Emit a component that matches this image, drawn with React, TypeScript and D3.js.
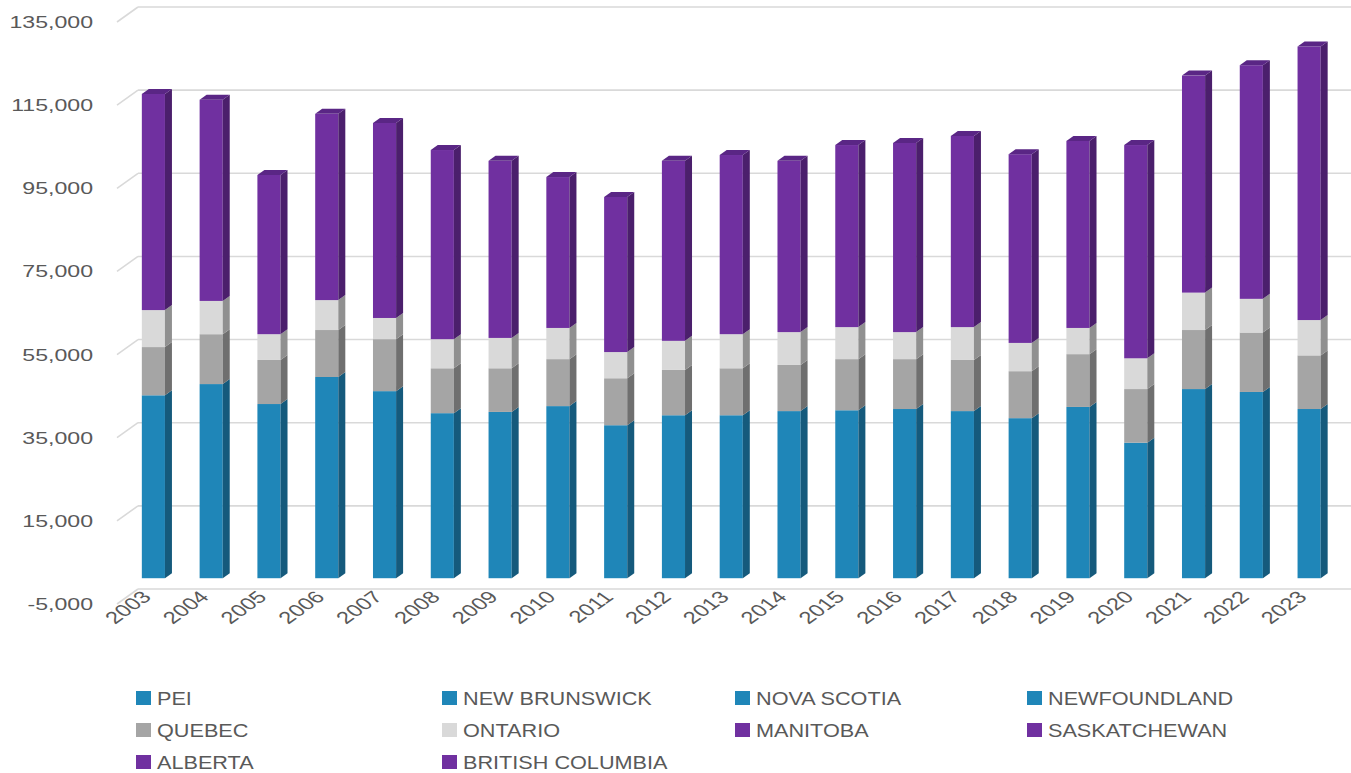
import * as d3 from "d3";
import { useEffect, useRef } from "react";

// Years on the x axis
const years = [
  "2003", "2004", "2005", "2006", "2007", "2008", "2009", "2010", "2011", "2012", "2013",
  "2014", "2015", "2016", "2017", "2018", "2019", "2020", "2021", "2022", "2023",
];

// Series values, one entry per year
const pei = [4200, 4500, 4000, 4700, 4300, 3800, 3900, 4000, 3500, 3800, 3700, 3900, 3900, 4000, 3900, 3700, 4000, 3100, 4400, 4300, 3900];
const newBrunswick = [13100, 13900, 12500, 14400, 13400, 11800, 11900, 12300, 11000, 11700, 11700, 12000, 12000, 12100, 12000, 11500, 12300, 9700, 13600, 13400, 12100];
const novaScotia = [15400, 16300, 14700, 16900, 15700, 13900, 14000, 14500, 12900, 13700, 13700, 14100, 14100, 14200, 14100, 13500, 14400, 11400, 15900, 15700, 14300];
const newfoundland = [11300, 12000, 10700, 12400, 11600, 10200, 10200, 10600, 9400, 10000, 10100, 10200, 10400, 10400, 10200, 9800, 10500, 8400, 11600, 11400, 10400];
const quebec = [11600, 12000, 10600, 11300, 12500, 10800, 10500, 11300, 11300, 10900, 11300, 11100, 12300, 12000, 12300, 11300, 12700, 12900, 14200, 14300, 12900];
const ontario = [8900, 8000, 6200, 7200, 5100, 7000, 7300, 7500, 6300, 7000, 8200, 7900, 7700, 6500, 7900, 6800, 6300, 7400, 9000, 8100, 8500];
const manitoba = [5200, 4800, 3800, 4500, 4700, 4500, 4300, 3600, 3700, 4300, 4300, 4100, 4400, 4500, 4600, 4500, 4500, 5100, 5200, 5600, 6600];
const saskatchewan = [6200, 5800, 4600, 5400, 5600, 5500, 5100, 4400, 4500, 5200, 5200, 4900, 5300, 5500, 5500, 5400, 5400, 6200, 6300, 6700, 7900];
const alberta = [19800, 18400, 14600, 17000, 17800, 17300, 16200, 13800, 14200, 16500, 16400, 15700, 16600, 17300, 17500, 17300, 17100, 19500, 19800, 21400, 25000];
const britishColumbia = [20800, 19400, 15300, 17900, 18800, 18200, 17000, 14500, 14900, 17300, 17200, 16500, 17500, 18200, 18400, 18200, 18000, 20500, 20900, 22500, 26300];

const seriesNames = [
  "PEI", "NEW BRUNSWICK", "NOVA SCOTIA", "NEWFOUNDLAND", "QUEBEC",
  "ONTARIO", "MANITOBA", "SASKATCHEWAN", "ALBERTA", "BRITISH COLUMBIA",
];
const seriesValues = [
  pei, newBrunswick, novaScotia, newfoundland, quebec,
  ontario, manitoba, saskatchewan, alberta, britishColumbia,
];

const yTicks = [-5000, 15000, 35000, 55000, 75000, 95000, 115000, 135000];

// front / side / top shades per series
const blue = { front: "#1f86b8", side: "#155a7c", top: "#1a6f98" };
const gray = { front: "#a5a5a5", side: "#6f6f6f", top: "#8a8a8a" };
const light = { front: "#d9d9d9", side: "#909090", top: "#b8b8b8" };
const purple = { front: "#7030a0", side: "#4b1f6c", top: "#5a2685" };
const shades = [blue, blue, blue, blue, gray, light, purple, purple, purple, purple];

const W = 1351;
const H = 773;
const textColor = "#595959";

const App = () => {
  const svgRef = useRef<SVGSVGElement>(null);

  useEffect(() => {
    if (!svgRef.current) return;
    const svg = d3.select(svgRef.current);
    svg.selectAll("*").remove();

    // back wall scale; front plane sits 15px lower and 21px to the left
    const yBack = d3.scaleLinear().domain([-5000, 135000]).range([589, 7]);
    const wallDx = 21;
    const wallDy = 15;
    // bar front face sits 10px below the back wall
    const barDy = 10;
    const depthX = 7;
    const depthY = 5;

    const x = d3.scaleBand<string>().domain(years).range([124.5, 1338]).paddingInner(0.6).paddingOuter(0.3);

    // grid on the back wall plus the slanted side-wall stubs
    const grid = svg.append("g").attr("stroke", "#d9d9d9").attr("stroke-width", 1.6).attr("fill", "none");
    yTicks.forEach(t => {
      const yb = yBack(t);
      grid.append("line").attr("x1", 117).attr("y1", yb + wallDy).attr("x2", 117 + wallDx).attr("y2", yb);
      grid.append("line").attr("x1", 117 + wallDx).attr("y1", yb).attr("x2", W).attr("y2", yb);
    });

    // y labels
    svg
      .append("g")
      .selectAll("text")
      .data(yTicks)
      .join("text")
      .attr("transform", d => `translate(93, ${yBack(d) + wallDy + 6}) scale(1.36, 1)`)
      .attr("text-anchor", "end")
      .attr("font-family", "Liberation Sans, Arial, sans-serif")
      .attr("font-size", 17)
      .attr("fill", textColor)
      .text(d => d3.format(",")(d).replace("\u2212", "-"));

    // stacked data
    const table = years.map((yr, i) => {
      const row: Record<string, number | string> = { year: yr };
      seriesNames.forEach((s, k) => (row[s] = seriesValues[k][i]));
      return row;
    });
    const stacked = d3.stack<Record<string, number | string>>().keys(seriesNames)(table as any);

    const bars = svg.append("g");
    years.forEach((yr, i) => {
      const x0 = x(yr) as number;
      const x1 = x0 + x.bandwidth();
      const g = bars.append("g");

      // same-coloured neighbours render as one block (no visible seam)
      const runs: { v0: number; v1: number; c: typeof blue }[] = [];
      stacked.forEach((layer, k) => {
        const [v0, v1] = layer[i];
        const last = runs[runs.length - 1];
        if (last && last.c === shades[k]) last.v1 = v1;
        else runs.push({ v0, v1, c: shades[k] });
      });

      runs.forEach((r, j) => {
        const yb = yBack(r.v0) + barDy;
        const yt = yBack(r.v1) + barDy;
        const c = r.c;
        g.append("rect")
          .attr("x", x0)
          .attr("y", yt)
          .attr("width", x1 - x0)
          .attr("height", yb - yt)
          .attr("fill", c.front);
        g.append("path")
          .attr("d", `M${x1},${yb}L${x1 + depthX},${yb - depthY}L${x1 + depthX},${yt - depthY}L${x1},${yt}Z`)
          .attr("fill", c.side);
        if (j === runs.length - 1) {
          g.append("path")
            .attr("d", `M${x0},${yt}L${x1},${yt}L${x1 + depthX},${yt - depthY}L${x0 + depthX},${yt - depthY}Z`)
            .attr("fill", c.top);
        }
      });
    });

    // x labels
    svg
      .append("g")
      .selectAll("text")
      .data(years)
      .join("text")
      .attr("transform", d => `translate(${(x(d) as number) + x.bandwidth() / 2 - 1}, 598) scale(1.4, 1) rotate(-45)`)
      .attr("text-anchor", "end")
      .attr("font-family", "Liberation Sans, Arial, sans-serif")
      .attr("font-size", 17)
      .attr("fill", textColor)
      .text(d => d);

    // legend
    const colX = [136, 442, 735, 1027];
    const rowY = [698, 730, 762];
    const legend = svg.append("g");
    seriesNames.forEach((s, k) => {
      const cx = colX[k % 4];
      const cy = rowY[Math.floor(k / 4)];
      legend.append("rect").attr("x", cx).attr("y", cy - 7).attr("width", 15).attr("height", 14).attr("fill", shades[k].front);
      legend
        .append("text")
        .attr("transform", `translate(${cx + 21}, ${cy + 7}) scale(1.14, 1)`)
        .attr("font-family", "Liberation Sans, Arial, sans-serif")
        .attr("font-size", 19)
        .attr("fill", textColor)
        .text(s);
    });
  }, []);

  return (
    <div>
      <style>{`body{margin:0}`}</style>
      <svg ref={svgRef} width={W} height={H} style={{ display: "block", background: "#fff" }}></svg>
    </div>
  );
};

export default App;
